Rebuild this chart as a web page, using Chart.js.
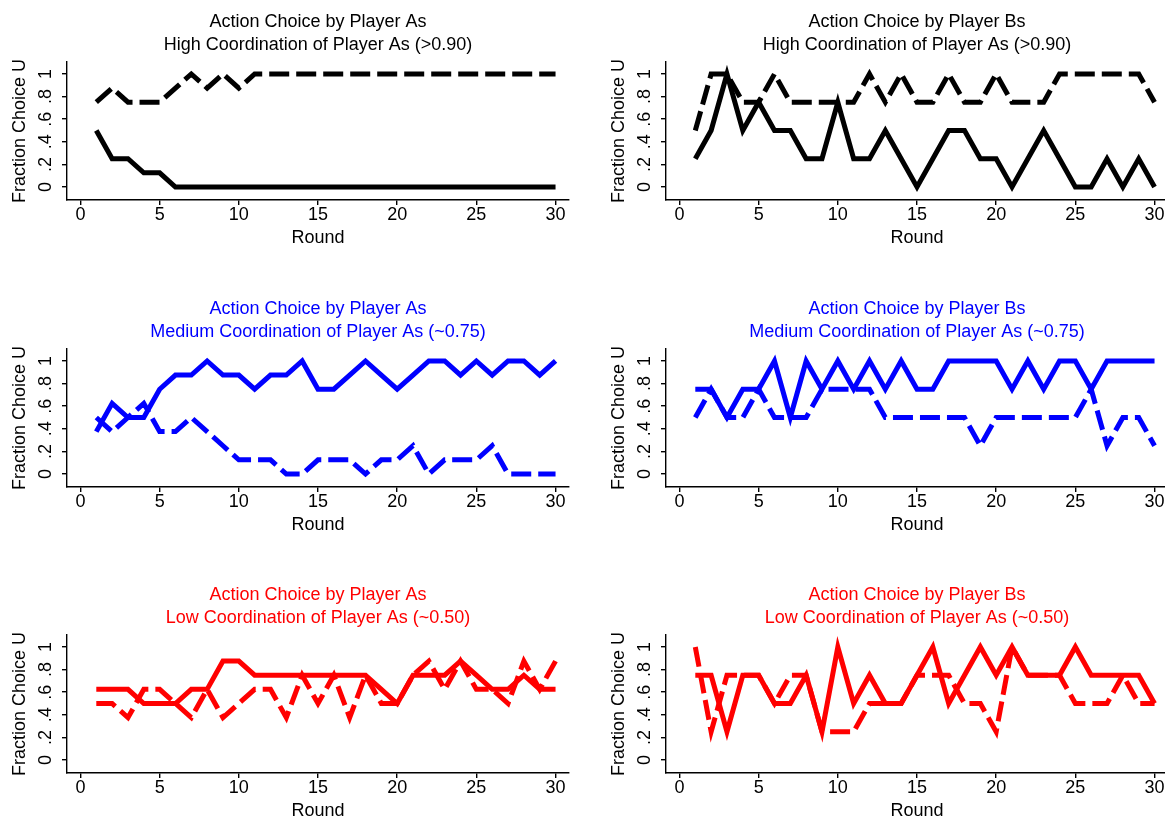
<!DOCTYPE html>
<html>
<head>
<meta charset="utf-8">
<script src="https://cdn.jsdelivr.net/npm/chart.js@4.4.1/dist/chart.umd.min.js"></script>
<style>
html,body{margin:0;padding:0;background:#fff;overflow:hidden;width:1165px;height:821px;position:relative;}
canvas{position:absolute;}
</style>
</head>
<body>
<script>
// ---- data ----
const rounds = [1,2,3,4,5,6,7,8,9,10,11,12,13,14,15,16,17,18,19,20,21,22,23,24,25,26,27,28,29,30];
const xTickValues = [0,5,10,15,20,25,30];
const xTickLabels = ["0","5","10","15","20","25","30"];
const yTickValues = [0,0.2,0.4,0.6,0.8,1];
const yTickLabels = ["0",".2",".4",".6",".8","1"];

const highA_solid  = [.5,.25,.25,.125,.125,0,0,0,0,0,0,0,0,0,0,0,0,0,0,0,0,0,0,0,0,0,0,0,0,0];
const highA_dashed = [.75,.875,.75,.75,.75,.875,1,.875,1,.875,1,1,1,1,1,1,1,1,1,1,1,1,1,1,1,1,1,1,1,1];
const highB_solid  = [.25,.5,1,.5,.75,.5,.5,.25,.25,.75,.25,.25,.5,.25,0,.25,.5,.5,.25,.25,0,.25,.5,.25,0,0,.25,0,.25,0];
const highB_dashed = [.5,1,1,.75,.75,1,.75,.75,.75,.75,.75,1,.75,1,.75,.75,1,.75,.75,1,.75,.75,.75,1,1,1,1,1,1,.75];
const medA_solid   = [.375,.625,.5,.5,.75,.875,.875,1,.875,.875,.75,.875,.875,1,.75,.75,.875,1,.875,.75,.875,1,1,.875,1,.875,1,1,.875,1];
const medA_dashed  = [.5,.375,.5,.625,.375,.375,.5,.375,.25,.125,.125,.125,0,0,.125,.125,.125,0,.125,.125,.25,0,.125,.125,.125,.25,0,0,0,0];
const medB_solid   = [.75,.75,.5,.75,.75,1,.5,1,.75,1,.75,1,.75,1,.75,.75,1,1,1,1,.75,1,.75,1,1,.75,1,1,1,1];
const medB_dashed  = [.5,.75,.5,.5,.75,.5,.5,.5,.75,.75,.75,.75,.5,.5,.5,.5,.5,.5,.25,.5,.5,.5,.5,.5,.5,.75,.25,.5,.5,.25];
const lowA_solid   = [.625,.625,.625,.5,.5,.5,.625,.625,.875,.875,.75,.75,.75,.75,.75,.75,.75,.75,.625,.5,.75,.75,.75,.875,.75,.625,.625,.75,.625,.625];
const lowA_dashed  = [.5,.5,.375,.625,.625,.5,.375,.625,.375,.5,.625,.625,.375,.75,.5,.75,.375,.75,.5,.5,.75,.875,.625,.875,.625,.625,.5,.875,.625,.875];
const lowB_solid   = [.75,.75,.25,.75,.75,.5,.5,.75,.25,1,.5,.75,.5,.5,.75,1,.5,.75,1,.75,1,.75,.75,.75,1,.75,.75,.75,.75,.5];
const lowB_dashed  = [1,.25,.75,.75,.75,.5,.75,.75,.25,.25,.25,.5,.5,.5,.75,.75,.75,.5,.5,.25,1,.75,.75,.75,.5,.5,.5,.75,.5,.5];

const titleA = "Action Choice by Player As";
const titleB = "Action Choice by Player Bs";
const subHigh = "High Coordination of Player As (>0.90)";
const subMed = "Medium Coordination of Player As (~0.75)";
const subLow = "Low Coordination of Player As (~0.50)";
const yTitle = "Fraction Choice U";
const xTitle = "Round";

// ---- layout ----
Chart.defaults.font.family = "'Liberation Sans', Arial, Helvetica, sans-serif";
Chart.defaults.color = "#000";
const rowTops = [0, 287, 573];
const colLefts = [0, 599];
const CW = 582, CH = 260;

function pts(arr){ return rounds.map((r,i)=>({x:r, y:arr[i]})); }

function panel(col, row, title, color, solid, dashed){
  const cv = document.createElement('canvas');
  cv.width = CW; cv.height = CH;
  cv.style.left = colLefts[col] + 'px';
  cv.style.top = rowTops[row] + 'px';
  cv.style.width = CW + 'px'; cv.style.height = CH + 'px';
  document.body.appendChild(cv);
  const axisCommon = {
    border: {display: true, color: '#000', width: 1.4},
    grid: {display: true, drawOnChartArea: false, drawTicks: true, tickLength: 5, color: '#000', lineWidth: 1.4}
  };
  new Chart(cv.getContext('2d'), {
    type: 'line',
    data: {
      datasets: [
        {data: pts(dashed), borderColor: color, borderWidth: 5, borderDash: [20, 7], pointRadius: 0, tension: 0, fill: false},
        {data: pts(solid), borderColor: color, borderWidth: 5, pointRadius: 0, tension: 0, fill: false}
      ]
    },
    options: {
      responsive: false,
      animation: false,
      devicePixelRatio: 1,
      layout: {padding: {left: 0, right: 13, top: 0, bottom: 10}},
      plugins: {
        legend: {display: false},
        tooltip: {enabled: false},
        title: {
          display: true, fullSize: false, text: title, color: color,
          font: {size: 18, weight: 'normal', lineHeight: 23/18},
          padding: {top: 10.5, bottom: 5.5}
        }
      },
      scales: {
        x: Object.assign({}, axisCommon, {
          type: 'linear', min: -0.85, max: 30.85,
          afterBuildTicks: s => { s.ticks = xTickValues.map(v => ({value: v})); },
          afterFit: s => { s.height = 50; },
          ticks: {autoSkip: false, maxRotation: 0, padding: -1, font: {size: 18},
                  callback: v => xTickLabels[xTickValues.indexOf(v)]},
          title: {display: true, text: xTitle, font: {size: 18}, padding: {top: 0, bottom: 1}}
        }),
        y: Object.assign({}, axisCommon, {
          type: 'linear', min: -0.115, max: 1.106,
          afterBuildTicks: s => { s.ticks = yTickValues.map(v => ({value: v})); },
          afterFit: s => { s.width = 67; },
          ticks: {autoSkip: false, minRotation: 90, maxRotation: 90, crossAlign: 'center', padding: 8.5, font: {size: 18},
                  callback: v => { const i = yTickValues.findIndex(t => Math.abs(t - v) < 1e-9); return i >= 0 ? yTickLabels[i] : ''; }},
          title: {display: true, text: yTitle, font: {size: 18}, padding: {top: 9, bottom: 0}}
        })
      }
    }
  });
}

panel(0, 0, [titleA, subHigh], '#000000', highA_solid, highA_dashed);
panel(1, 0, [titleB, subHigh], '#000000', highB_solid, highB_dashed);
panel(0, 1, [titleA, subMed], '#0000ff', medA_solid, medA_dashed);
panel(1, 1, [titleB, subMed], '#0000ff', medB_solid, medB_dashed);
panel(0, 2, [titleA, subLow], '#ff0000', lowA_solid, lowA_dashed);
panel(1, 2, [titleB, subLow], '#ff0000', lowB_solid, lowB_dashed);
</script>
</body>
</html>
